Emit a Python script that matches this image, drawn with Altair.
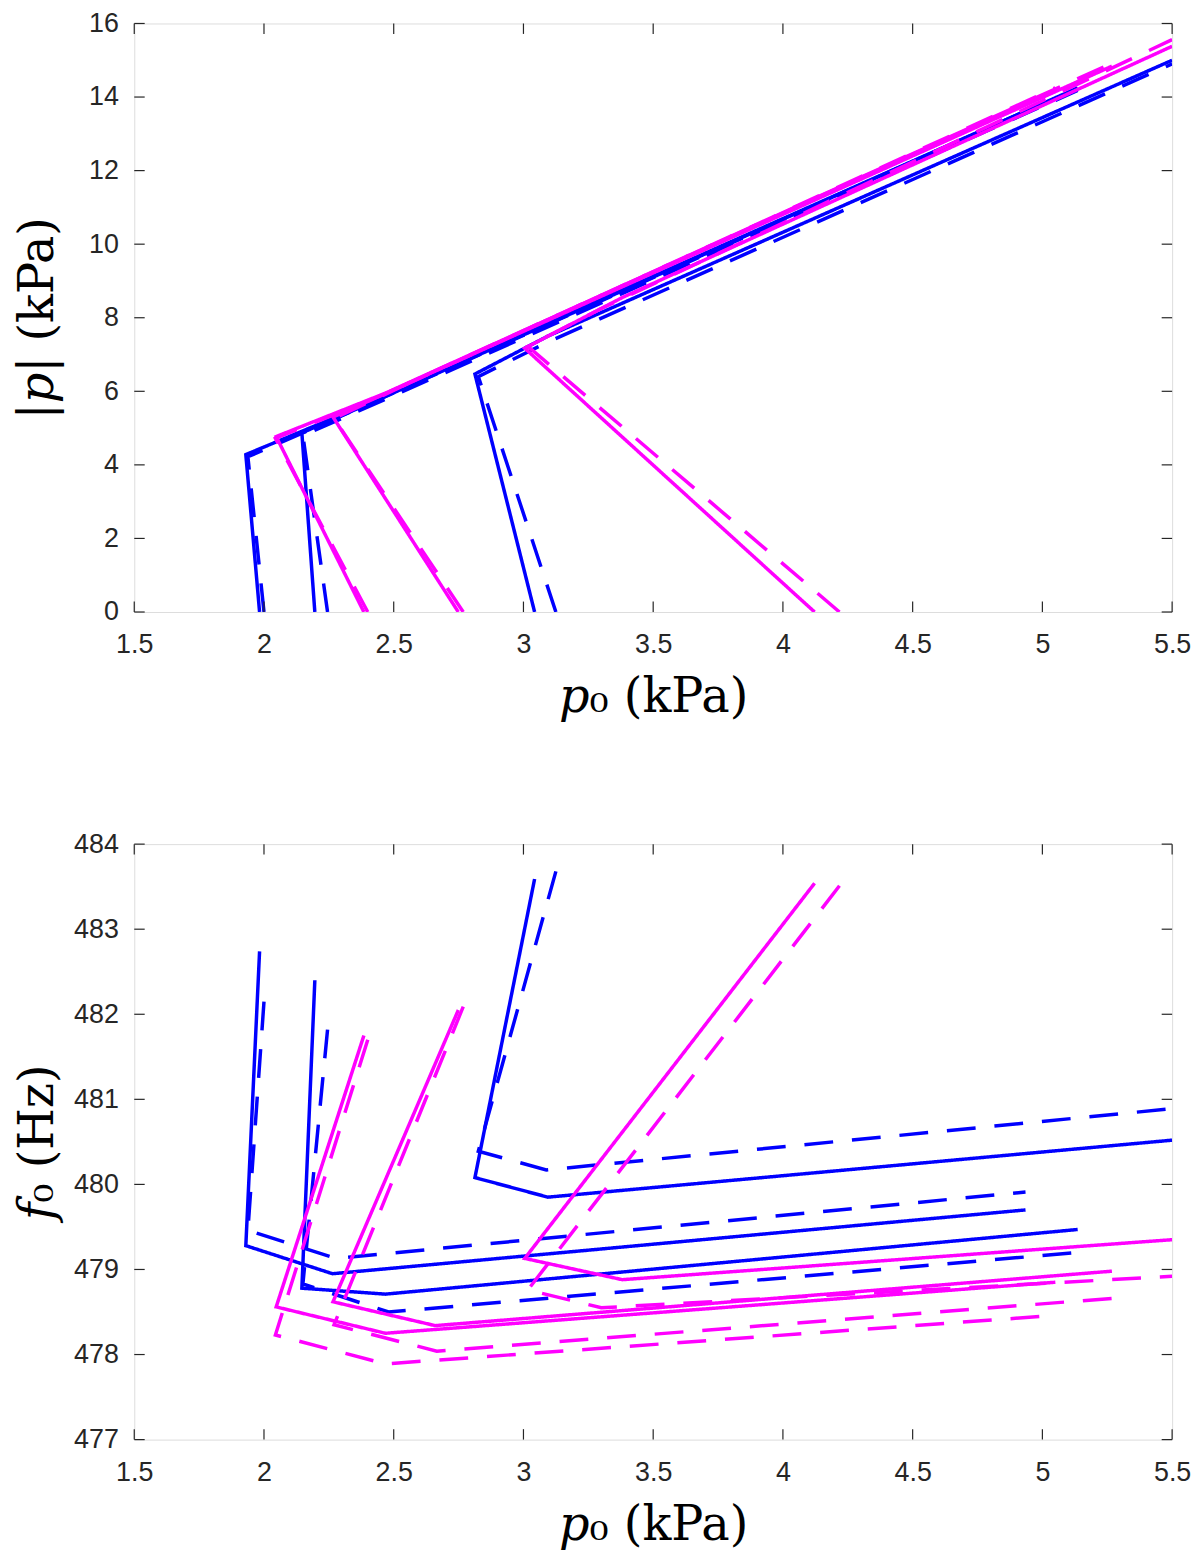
import altair as alt
import pandas as pd

# ---------------- data ----------------
# each curve: p0 (kPa), |p| (kPa), f0 (Hz) at its four vertices
B1S_P0 = [1.983, 1.930, 2.264, 4.935]
B1S_P = [0.0, 4.28, 5.26, 13.62]
B1S_F = [482.74, 479.28, 478.95, 479.70]

B1D_P0 = [2.000, 1.938, 2.277, 4.935]
B1D_P = [0.0, 4.22, 5.26, 13.58]
B1D_F = [482.15, 479.46, 479.13, 479.91]

B2S_P0 = [2.196, 2.146, 2.468, 5.136]
B2S_P = [0.0, 4.87, 5.86, 14.25]
B2S_F = [482.40, 478.78, 478.71, 479.47]

B2D_P0 = [2.245, 2.150, 2.480, 5.136]
B2D_P = [0.0, 4.80, 5.82, 14.18]
B2D_F = [481.82, 478.83, 478.50, 479.20]

B3S_P0 = [3.043, 2.813, 3.094, 5.500]
B3S_P = [0.0, 6.47, 7.50, 15.00]
B3S_F = [483.59, 480.08, 479.85, 480.52]

B3D_P0 = [3.125, 2.826, 3.088, 5.500]
B3D_P = [0.0, 6.40, 7.32, 14.90]
B3D_F = [483.68, 480.39, 480.17, 480.89]

M1S_P0 = [2.385, 2.047, 2.468, 5.050]
M1S_P = [0.0, 4.77, 5.95, 14.20]
M1S_F = [481.75, 478.56, 478.25, 478.85]

M1D_P0 = [2.400, 2.044, 2.468, 5.050]
M1D_P = [0.0, 4.72, 5.93, 14.25]
M1D_F = [481.70, 478.23, 477.89, 478.46]

M2S_P0 = [2.749, 2.266, 2.660, 5.268]
M2S_P = [0.0, 5.30, 6.55, 14.84]
M2S_F = [482.05, 478.62, 478.34, 478.98]

M2D_P0 = [2.768, 2.270, 2.666, 5.268]
M2D_P = [0.0, 5.26, 6.58, 14.92]
M2D_F = [482.09, 478.35, 478.04, 478.66]

M3S_P0 = [4.122, 3.005, 3.381, 5.500]
M3S_P = [0.0, 7.17, 8.55, 15.38]
M3S_F = [483.54, 479.13, 478.88, 479.35]

M3D_P0 = [4.218, 3.017, 3.300, 5.500]
M3D_P = [0.0, 7.22, 8.25, 15.56]
M3D_F = [483.51, 478.76, 478.55, 478.92]

X_TICKS = [1.5, 2, 2.5, 3, 3.5, 4, 4.5, 5, 5.5]
P_TICKS = [0, 2, 4, 6, 8, 10, 12, 14, 16]
F_TICKS = [477, 478, 479, 480, 481, 482, 483, 484]

CURVES = [
    ("B1s", "blue", "solid", B1S_P0, B1S_P, B1S_F),
    ("B1d", "blue", "dashed", B1D_P0, B1D_P, B1D_F),
    ("B2s", "blue", "solid", B2S_P0, B2S_P, B2S_F),
    ("B2d", "blue", "dashed", B2D_P0, B2D_P, B2D_F),
    ("B3s", "blue", "solid", B3S_P0, B3S_P, B3S_F),
    ("B3d", "blue", "dashed", B3D_P0, B3D_P, B3D_F),
    ("M1s", "magenta", "solid", M1S_P0, M1S_P, M1S_F),
    ("M1d", "magenta", "dashed", M1D_P0, M1D_P, M1D_F),
    ("M2s", "magenta", "solid", M2S_P0, M2S_P, M2S_F),
    ("M2d", "magenta", "dashed", M2D_P0, M2D_P, M2D_F),
    ("M3s", "magenta", "solid", M3S_P0, M3S_P, M3S_F),
    ("M3d", "magenta", "dashed", M3D_P0, M3D_P, M3D_F),
]

rows = []
for name, col, sty, xs, ps, fs in CURVES:
    for i, (x, p, f) in enumerate(zip(xs, ps, fs)):
        rows.append({"curve": name, "color": col, "style": sty, "idx": i,
                     "p0": x, "p": p, "f0": f})
df = pd.DataFrame(rows)

W = 1044
H1 = 592
H2 = 599
TICK = 10.5
AX = "#262626"
LABEL_FONT = "Liberation Sans"
TITLE_FONT = "DejaVu Serif"
LFS = 27
TFS = 48

xscale = alt.Scale(domain=[1.5, 5.5], nice=False, zero=False)
pscale = alt.Scale(domain=[0, 16], nice=False, zero=False)
fscale = alt.Scale(domain=[477, 484], nice=False, zero=False)
cscale = alt.Scale(domain=["blue", "magenta"], range=["#0000ff", "#ff00ff"])
dscale = alt.Scale(domain=["solid", "dashed"], range=[[1, 0], [29, 19]])


def x_axis():
    return alt.Axis(values=X_TICKS, format="~g", title="𝑝₀ (kPa)", ticks=False,
                    domain=False, grid=False, labelFont=LABEL_FONT, labelFontSize=LFS,
                    labelColor=AX, labelPadding=20, labelFlush=False,
                    titleFont=TITLE_FONT, titleFontSize=TFS, titleFontWeight="normal",
                    titleColor="#000000", titleY=100, titleBaseline="alphabetic")


def y_axis(values, title, h):
    return alt.Axis(values=values, format="~g", title=title, ticks=False,
                    domain=False, grid=False, labelFont=LABEL_FONT, labelFontSize=LFS,
                    labelColor=AX, labelPadding=16, labelFlush=False,
                    titleFont=TITLE_FONT, titleFontSize=TFS, titleFontWeight="normal",
                    titleColor="#000000", titleX=-82, titleY=h / 2, titleAngle=270,
                    titleAlign="center", titleBaseline="alphabetic")


def panel(ycol, yscale, yticks, ytitle, h):
    xa = x_axis()
    ya = y_axis(yticks, ytitle, h)
    layers = []
    for col in ["blue", "magenta"]:
        layers.append(
            alt.Chart(df[df["color"] == col]).mark_line(strokeWidth=3.5, clip=True).encode(
                x=alt.X("p0:Q", scale=xscale, axis=xa),
                y=alt.Y(f"{ycol}:Q", scale=yscale, axis=ya),
                color=alt.Color("color:N", scale=cscale, legend=None),
                strokeDash=alt.StrokeDash("style:N", scale=dscale, legend=None),
                detail="curve:N",
                order="idx:O",
            )
        )
    xt = pd.DataFrame({"p0": X_TICKS})
    yt = pd.DataFrame({ycol: yticks})
    rule = dict(color=AX, strokeWidth=1.2)
    layers.append(alt.Chart(xt).mark_rule(**rule).encode(
        x=alt.X("p0:Q", scale=xscale, axis=xa), y=alt.value(h), y2=alt.value(h - TICK)))
    layers.append(alt.Chart(xt).mark_rule(**rule).encode(
        x=alt.X("p0:Q", scale=xscale, axis=xa), y=alt.value(0), y2=alt.value(TICK)))
    layers.append(alt.Chart(yt).mark_rule(**rule).encode(
        y=alt.Y(f"{ycol}:Q", scale=yscale, axis=ya), x=alt.value(0), x2=alt.value(TICK)))
    layers.append(alt.Chart(yt).mark_rule(**rule).encode(
        y=alt.Y(f"{ycol}:Q", scale=yscale, axis=ya), x=alt.value(W), x2=alt.value(W - TICK)))
    return alt.layer(*layers).properties(width=W, height=h)


top = panel("p", pscale, P_TICKS, "|𝑝| (kPa)", H1)
bottom = panel("f0", fscale, F_TICKS, "𝑓₀ (Hz)", H2)

chart = alt.vconcat(top, bottom, spacing=233.5, bounds="flush").properties(
    padding={"left": 6, "top": -4, "right": 0, "bottom": 0}
).configure_view(stroke=AX, strokeWidth=1.2).configure(background="white")

chart.save("out.html", embed_options={"renderer": "svg", "actions": False})
